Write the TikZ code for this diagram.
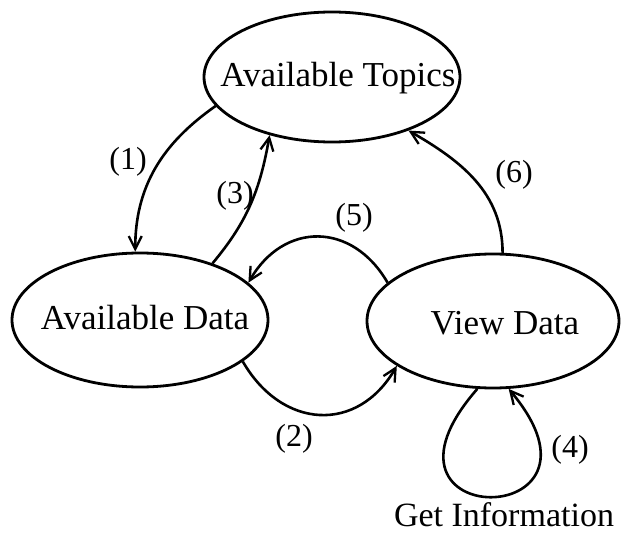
\documentclass[tikz,border=0pt]{standalone}
\usepackage{fontspec}
\setmainfont{Liberation Serif}
\usetikzlibrary{shapes.geometric,arrows.meta}
\tikzset{
  state/.style={draw, ellipse, line width=2.8pt, inner sep=0pt},
  conn/.style={line width=2.6pt, -{Straight Barb[length=13pt,width=13pt,line width=2.3pt]}},
  big/.style={font=\fontsize{35}{40}\selectfont, inner sep=0pt},
  lbl/.style={font=\fontsize{32}{36}\selectfont, inner sep=0pt}
}
\begin{document}
\begin{tikzpicture}[x=1pt,y=1pt]
\useasboundingbox[fill=white] (0,0) rectangle (622,-535);
% states
\node[state, minimum width=256pt, minimum height=130pt] (T) at (332,-77) {};
\node[state, minimum width=256pt, minimum height=134pt] (D) at (140,-320) {};
\node[state, minimum width=252pt, minimum height=134pt] (V) at (493,-321) {};
% state texts
\node[big] (tT) at (338,-78) {Available Topics};
\node[big] (tD) at (145,-318) {Available Data};
\node[big] (tV) at (505,-323) {View Data};
\node[font=\fontsize{34}{38}\selectfont, inner sep=0pt, anchor=base] (gi) at (504,-526) {Get Information};
% connectors
\draw[conn] (T.194) to[out=215,in=90,looseness=1] (D.94);
\draw[conn] (D.38) to[out=50,in=260] (T.223);
\draw[conn] (V.160) to[out=120,in=60,looseness=1.3] (D.19.5);
\draw[conn] (D.338) to[out=300,in=240,looseness=1.3] (V.205);
\draw[conn] (V.82) to[out=90,in=330] (T.325);
\draw[conn] (V.257) .. controls +(-127,-145) and +(120,-143) .. (V.283);
% labels
\node[lbl] (l1) at (128,-162) {(1)};
\node[lbl] (l3) at (235,-196) {(3)};
\node[lbl] (l5) at (354,-218) {(5)};
\node[lbl] (l6) at (514,-175) {(6)};
\node[lbl] (l2) at (294,-439) {(2)};
\node[lbl] (l4) at (570,-450) {(4)};
\end{tikzpicture}
\end{document}
